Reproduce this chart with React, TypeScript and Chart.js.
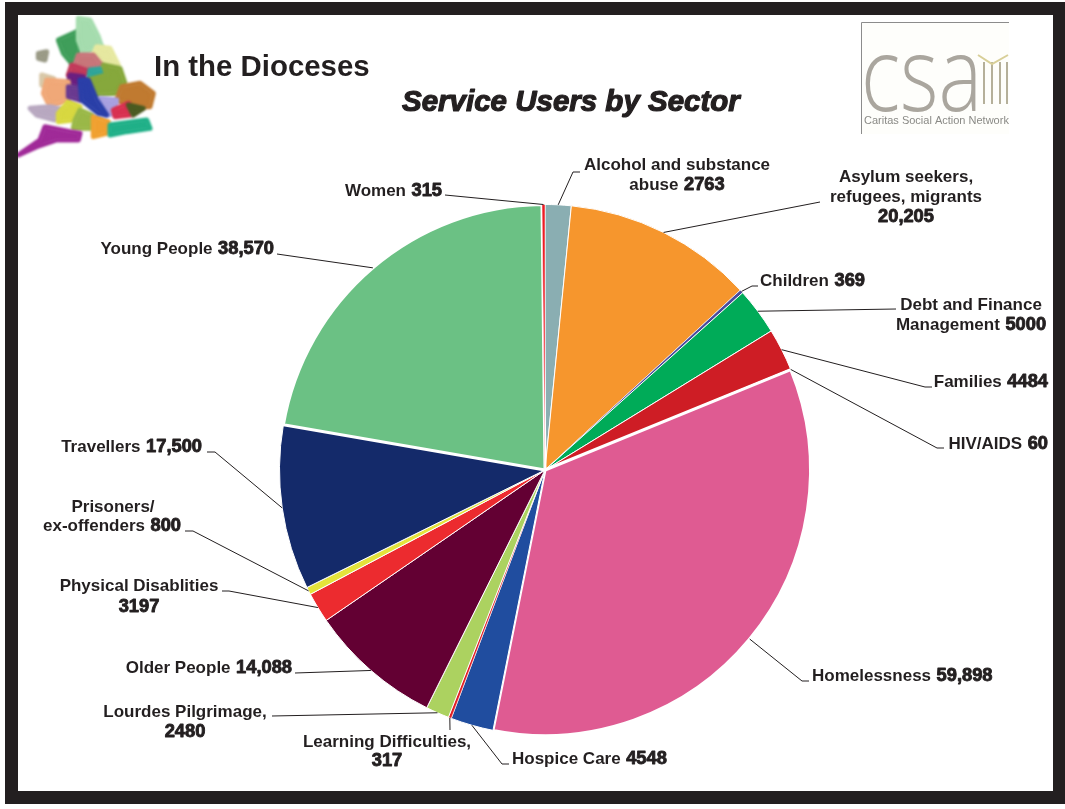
import React, { useEffect, useRef } from "react";
import { Chart, registerables } from "chart.js";

Chart.register(...registerables);

const categories = [
  "Alcohol and substance abuse",
  "Asylum seekers, refugees, migrants",
  "Children",
  "Debt and Finance Management",
  "Families",
  "HIV/AIDS",
  "Homelessness",
  "Hospice Care",
  "Learning Difficulties",
  "Lourdes Pilgrimage",
  "Older People",
  "Physical Disablities",
  "Prisoners/ex-offenders",
  "Travellers",
  "Young People",
  "Women",
];
const serviceUsers = [2763, 20205, 369, 5000, 4484, 60, 59898, 4548, 317, 2480, 14088, 3197, 800, 17500, 38570, 315];
const sliceColors = [
  "#8aaeb2", "#f6962d", "#4a4a9c", "#00ab58", "#ce1d25", "#f4b8c8", "#df5b92", "#204d9f",
  "#e01f26", "#acd260", "#630033", "#ec2b2f", "#e4e33b", "#142a6a", "#6bc184", "#ed1c24",
];
const sliceBorders = [1, 1, 0.5, 1, 1, 1, 3, 1, 0.5, 1, 1, 1, 1, 1, 3, 0.5];

const INK = "#231f20";
const LABEL_FONT = 'bold 17px "Liberation Sans", Arial, sans-serif';
const VALUE_FONT = 'bold 18.3px "Liberation Sans", Arial, sans-serif';

type Run = [string, string];
type Callout = {
  elbow: [number, number][];
  lines: { runs: Run; x: number; y: number; align: "left" | "center" | "right" }[];
};

// One entry per slice, same order as `categories`: leader bends and label lines.
const callouts: Callout[] = [
  { elbow: [[573, 172], [580, 172]], lines: [
    { runs: ["Alcohol and substance", ""], x: 677, y: 170, align: "center" },
    { runs: ["abuse", "2763"], x: 677, y: 190, align: "center" },
  ] },
  { elbow: [[820, 202]], lines: [
    { runs: ["Asylum seekers,", ""], x: 906, y: 182, align: "center" },
    { runs: ["refugees, migrants", ""], x: 906, y: 202, align: "center" },
    { runs: ["", "20,205"], x: 906, y: 222, align: "center" },
  ] },
  { elbow: [[752, 286], [758, 286]], lines: [{ runs: ["Children", "369"], x: 760, y: 286, align: "left" }] },
  { elbow: [[896, 309]], lines: [
    { runs: ["Debt and Finance", ""], x: 971, y: 310, align: "center" },
    { runs: ["Management", "5000"], x: 971, y: 330, align: "center" },
  ] },
  { elbow: [[925, 387], [932, 387]], lines: [{ runs: ["Families", "4484"], x: 1048, y: 387, align: "right" }] },
  { elbow: [[937, 448], [944, 448]], lines: [{ runs: ["HIV/AIDS", "60"], x: 1048, y: 449, align: "right" }] },
  { elbow: [[802, 681], [809, 681]], lines: [{ runs: ["Homelessness", "59,898"], x: 812, y: 681, align: "left" }] },
  { elbow: [[502, 764], [509, 764]], lines: [{ runs: ["Hospice Care", "4548"], x: 512, y: 764, align: "left" }] },
  { elbow: [[450, 730]], lines: [
    { runs: ["Learning Difficulties,", ""], x: 387, y: 747, align: "center" },
    { runs: ["", "317"], x: 387, y: 766, align: "center" },
  ] },
  { elbow: [[272, 716]], lines: [
    { runs: ["Lourdes Pilgrimage,", ""], x: 185, y: 717, align: "center" },
    { runs: ["", "2480"], x: 185, y: 737, align: "center" },
  ] },
  { elbow: [[295, 673]], lines: [{ runs: ["Older People", "14,088"], x: 292, y: 673, align: "right" }] },
  { elbow: [[229, 591], [222, 591]], lines: [
    { runs: ["Physical Disablities", ""], x: 139, y: 591, align: "center" },
    { runs: ["", "3197"], x: 139, y: 612, align: "center" },
  ] },
  { elbow: [[193, 531], [185, 531]], lines: [
    { runs: ["Prisoners/", ""], x: 113, y: 512, align: "center" },
    { runs: ["ex-offenders", "800"], x: 112, y: 531, align: "center" },
  ] },
  { elbow: [[215, 452], [207, 452]], lines: [{ runs: ["Travellers", "17,500"], x: 202, y: 452, align: "right" }] },
  { elbow: [[277, 254]], lines: [{ runs: ["Young People", "38,570"], x: 274, y: 254, align: "right" }] },
  { elbow: [[445, 195]], lines: [{ runs: ["Women", "315"], x: 442, y: 196, align: "right" }] },
];

// Diocese map of England and Wales, outlined on a 3x grid.
const mapRegions: [string, number[]][] = [
  ["#9a9a86", [115, 160, 140, 155, 135, 180, 115, 175]],
  ["#d8c8a8", [125, 225, 160, 235, 150, 265, 125, 255]],
  ["#3f9e5a", [175, 120, 230, 95, 240, 120, 235, 160, 215, 190, 190, 160]],
  ["#a5dcae", [235, 55, 270, 60, 295, 110, 305, 140, 250, 160, 235, 120]],
  ["#e6e8a0", [290, 140, 330, 145, 355, 195, 300, 185, 280, 165]],
  ["#c8767a", [235, 165, 280, 165, 305, 195, 270, 215, 225, 195]],
  ["#c23a5a", [215, 195, 270, 215, 235, 235, 205, 225]],
  ["#2fa59a", [270, 210, 315, 205, 320, 230, 265, 240]],
  ["#86a83c", [310, 195, 360, 205, 375, 250, 350, 280, 280, 285, 265, 240, 320, 225]],
  ["#c07a30", [365, 260, 420, 250, 460, 280, 450, 320, 390, 320, 350, 300]],
  ["#6a1f80", [210, 225, 250, 230, 265, 260, 240, 260, 205, 250]],
  ["#f0a878", [140, 240, 205, 245, 205, 300, 150, 320, 130, 280]],
  ["#b8a8c0", [90, 325, 150, 320, 195, 330, 165, 360, 110, 345]],
  ["#d8d840", [205, 305, 240, 320, 220, 360, 175, 365, 175, 340]],
  ["#9ab848", [240, 330, 275, 345, 275, 385, 220, 385, 225, 360]],
  ["#f0a030", [280, 350, 325, 365, 320, 400, 280, 410]],
  ["#20b088", [330, 375, 440, 360, 450, 385, 380, 395, 330, 405]],
  ["#a8a0e0", [300, 295, 350, 300, 345, 340, 320, 345]],
  ["#d83050", [340, 330, 385, 310, 390, 345, 345, 350]],
  ["#4a5a20", [385, 315, 430, 325, 400, 345]],
  ["#6a3a90", [205, 260, 245, 265, 240, 300, 205, 290]],
  ["#2a3fa8", [240, 240, 265, 240, 290, 300, 320, 345, 295, 340, 245, 300]],
  ["#a02a98", [55, 465, 120, 420, 135, 380, 210, 395, 240, 400, 235, 420, 170, 420, 110, 440]],
];

function drawFrame(ctx: CanvasRenderingContext2D) {
  ctx.fillStyle = INK;
  ctx.fillRect(5, 2, 1060, 802);
  ctx.fillStyle = "#ffffff";
  ctx.fillRect(18, 15, 1035, 776);
}

function drawMap(ctx: CanvasRenderingContext2D) {
  ctx.save();
  ctx.beginPath();
  ctx.rect(18, 15, 140, 145);
  ctx.clip();
  ctx.filter = "blur(1.3px)";
  ctx.lineJoin = "round";
  ctx.lineWidth = 5;
  for (const [color, pts] of mapRegions) {
    ctx.fillStyle = color;
    ctx.strokeStyle = color;
    ctx.beginPath();
    for (let i = 0; i < pts.length; i += 2) {
      const x = pts[i] / 3;
      const y = pts[i + 1] / 3;
      if (i === 0) ctx.moveTo(x, y);
      else ctx.lineTo(x, y);
    }
    ctx.closePath();
    ctx.fill();
    ctx.stroke();
  }
  ctx.restore();
}

function drawLogo(ctx: CanvasRenderingContext2D) {
  ctx.save();
  ctx.fillStyle = "#fefefb";
  ctx.fillRect(861, 22, 148, 112);
  ctx.strokeStyle = "#8c8c8c";
  ctx.lineWidth = 1;
  ctx.beginPath();
  ctx.moveTo(861.5, 134);
  ctx.lineTo(861.5, 22.5);
  ctx.lineTo(1009, 22.5);
  ctx.stroke();
  ctx.beginPath();
  ctx.rect(861, 22, 148, 112);
  ctx.clip();
  ctx.filter = "blur(0.5px)";
  ctx.fillStyle = "#aaa69e";
  ctx.save();
  ctx.translate(861, 111);
  ctx.scale(0.84, 1.05);
  ctx.font = '300 98px "Open Sans", "Liberation Sans", sans-serif';
  ctx.textAlign = "left";
  ctx.textBaseline = "alphabetic";
  ctx.fillText("csa", 0, 0);
  ctx.restore();
  ctx.strokeStyle = "#b5b09a";
  ctx.lineWidth = 2;
  for (const x of [984, 992, 1000, 1007]) {
    ctx.beginPath();
    ctx.moveTo(x, 62);
    ctx.lineTo(x, 104);
    ctx.stroke();
  }
  ctx.strokeStyle = "#d8cf98";
  ctx.beginPath();
  ctx.moveTo(978, 55);
  ctx.lineTo(992, 64);
  ctx.lineTo(1008, 55);
  ctx.stroke();
  ctx.fillStyle = "#8a8a86";
  ctx.font = '11px "Liberation Sans", sans-serif';
  ctx.fillText("Caritas Social Action Network", 864, 124);
  ctx.restore();
}

function drawRuns(ctx: CanvasRenderingContext2D, line: Callout["lines"][number]) {
  const [plain, strong] = line.runs;
  ctx.textBaseline = "alphabetic";
  ctx.textAlign = "left";
  ctx.font = LABEL_FONT;
  const plainW = plain ? ctx.measureText(plain).width : 0;
  const gap = plain && strong ? ctx.measureText(" ").width + 0.8 : 0;
  ctx.font = VALUE_FONT;
  const strongW = strong ? ctx.measureText(strong).width : 0;
  const total = plainW + gap + strongW;
  let x = line.x;
  if (line.align === "center") x -= total / 2;
  if (line.align === "right") x -= total;
  ctx.fillStyle = INK;
  if (plain) {
    ctx.font = LABEL_FONT;
    ctx.fillText(plain, x, line.y);
  }
  if (strong) {
    const sx = x + plainW + gap;
    ctx.font = VALUE_FONT;
    ctx.strokeStyle = INK;
    ctx.lineWidth = 0.9;
    ctx.lineJoin = "round";
    ctx.strokeText(strong, sx, line.y);
    ctx.fillText(strong, sx, line.y);
  }
}

const pagePlugin = {
  id: "pageFurniture",
  beforeDraw(chart: Chart) {
    const ctx = chart.ctx;
    ctx.save();
    drawFrame(ctx);
    drawMap(ctx);
    drawLogo(ctx);
    ctx.fillStyle = INK;
    ctx.textAlign = "left";
    ctx.textBaseline = "alphabetic";
    ctx.font = 'bold 29.4px "Liberation Sans", Arial, sans-serif';
    ctx.fillText("In the Dioceses", 154, 76);
    ctx.font = 'italic bold 29.5px "Liberation Sans", Arial, sans-serif';
    ctx.strokeStyle = INK;
    ctx.lineWidth = 1.2;
    ctx.lineJoin = "round";
    ctx.strokeText("Service Users by Sector", 402, 111);
    ctx.fillText("Service Users by Sector", 402, 111);
    ctx.restore();
  },
  afterDatasetsDraw(chart: Chart) {
    const ctx = chart.ctx;
    const arcs = chart.getDatasetMeta(0).data as any[];
    ctx.save();
    callouts.forEach((callout, i) => {
      const arc = arcs[i];
      const mid = (arc.startAngle + arc.endAngle) / 2;
      ctx.strokeStyle = INK;
      ctx.lineWidth = 1;
      ctx.beginPath();
      ctx.moveTo(arc.x + Math.cos(mid) * arc.outerRadius, arc.y + Math.sin(mid) * arc.outerRadius);
      for (const [x, y] of callout.elbow) ctx.lineTo(x, y);
      ctx.stroke();
      callout.lines.forEach((line) => drawRuns(ctx, line));
    });
    ctx.restore();
  },
};

export default function App() {
  const canvasRef = useRef<HTMLCanvasElement | null>(null);

  useEffect(() => {
    const canvas = canvasRef.current;
    if (!canvas) return;
    const chart = new Chart(canvas, {
      type: "pie",
      data: {
        labels: categories,
        datasets: [
          {
            data: serviceUsers,
            backgroundColor: sliceColors,
            borderColor: "#ffffff",
            borderWidth: sliceBorders,
          },
        ],
      },
      options: {
        responsive: false,
        animation: false,
        layout: { padding: { left: 278, right: 253, top: 203, bottom: 72 } },
        plugins: { legend: { display: false }, title: { display: false }, tooltip: { enabled: false } },
      },
      plugins: [pagePlugin],
    });
    return () => chart.destroy();
  }, []);

  return (
    <canvas
      ref={canvasRef}
      width={1065}
      height={809}
      style={{ position: "absolute", left: 0, top: 0, display: "block" }}
    />
  );
}
